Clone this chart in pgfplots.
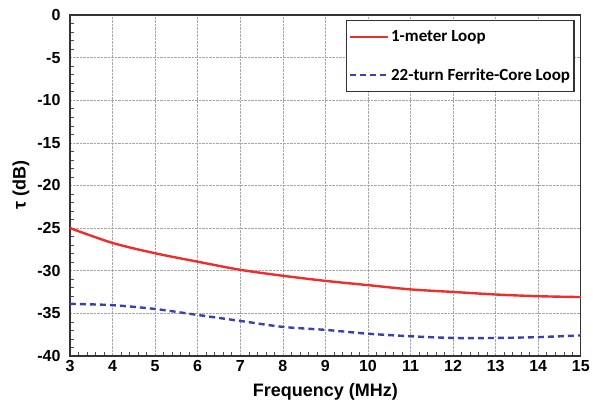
\documentclass[border=0pt]{standalone}
\usepackage{fontspec}
\setmainfont{Liberation Sans}
\newfontfamily\legfont{Carlito}
\usepackage{pgfplots}
\pgfplotsset{compat=1.18}
\definecolor{redl}{RGB}{240,45,45}
\definecolor{bluel}{RGB}{55,65,175}
\begin{document}
\begin{tikzpicture}
\begin{axis}[
  name=ax,
  scale only axis, width=511pt, height=341pt,
  xmin=3, xmax=15, ymin=-40, ymax=0,
  xtick={3,...,15}, ytick={-40,-35,...,0},
  minor x tick num=4, minor y tick num=4,
  xtick pos=left, ytick pos=left,
  tick align=inside,
  major tick length=0pt, minor tick length=4pt,
  grid=major,
  major grid style={densely dotted, gray!70, line width=0.6pt},
  axis line style={line width=1.3pt, black!80},
  minor tick style={black!70, line width=0.5pt},
  /pgf/number format/assume math mode=true,
  tick label style={font=\fontsize{16}{18}\selectfont\bfseries},
  xticklabel style={yshift=-1pt},
  yticklabel style={xshift=-6pt},
  xlabel={Frequency (MHz)}, ylabel={τ (dB)},
  label style={font=\fontsize{18}{20}\selectfont\bfseries},
  xlabel style={yshift=-5pt},
  ylabel style={yshift=1pt},
  legend style={at={(0.988,0.985)}, anchor=north east, draw=black!80, line width=1.2pt,
     font=\fontsize{17}{19}\selectfont\legfont\bfseries, row sep=21pt, inner xsep=2pt, inner ysep=8pt,
     legend cell align=left},
  legend image code/.code={\draw[#1] (0pt,0pt) -- (38pt,0pt);},
]
\addplot[redl, line width=2.4pt, smooth] coordinates {
(3,-25.0) (4,-26.75) (5,-27.96) (6,-28.95) (7,-29.9) (8,-30.6) (9,-31.2)
(10,-31.7) (11,-32.2) (12,-32.5) (13,-32.8) (14,-33.0) (15,-33.1)};
\addlegendentry{1-meter Loop}
\addplot[bluel, line width=2.4pt, dash pattern=on 6pt off 4pt, smooth] coordinates {
(3,-33.9) (4,-34.05) (5,-34.5) (6,-35.2) (7,-35.9) (8,-36.6) (9,-36.95)
(10,-37.4) (11,-37.7) (12,-37.9) (13,-37.9) (14,-37.8) (15,-37.6)};
\addlegendentry{22-turn Ferrite-Core Loop}
\end{axis}
\path ([shift={(-70pt,-58pt)}]ax.south west) rectangle ([shift={(12pt,15pt)}]ax.north east);
\end{tikzpicture}
\end{document}
